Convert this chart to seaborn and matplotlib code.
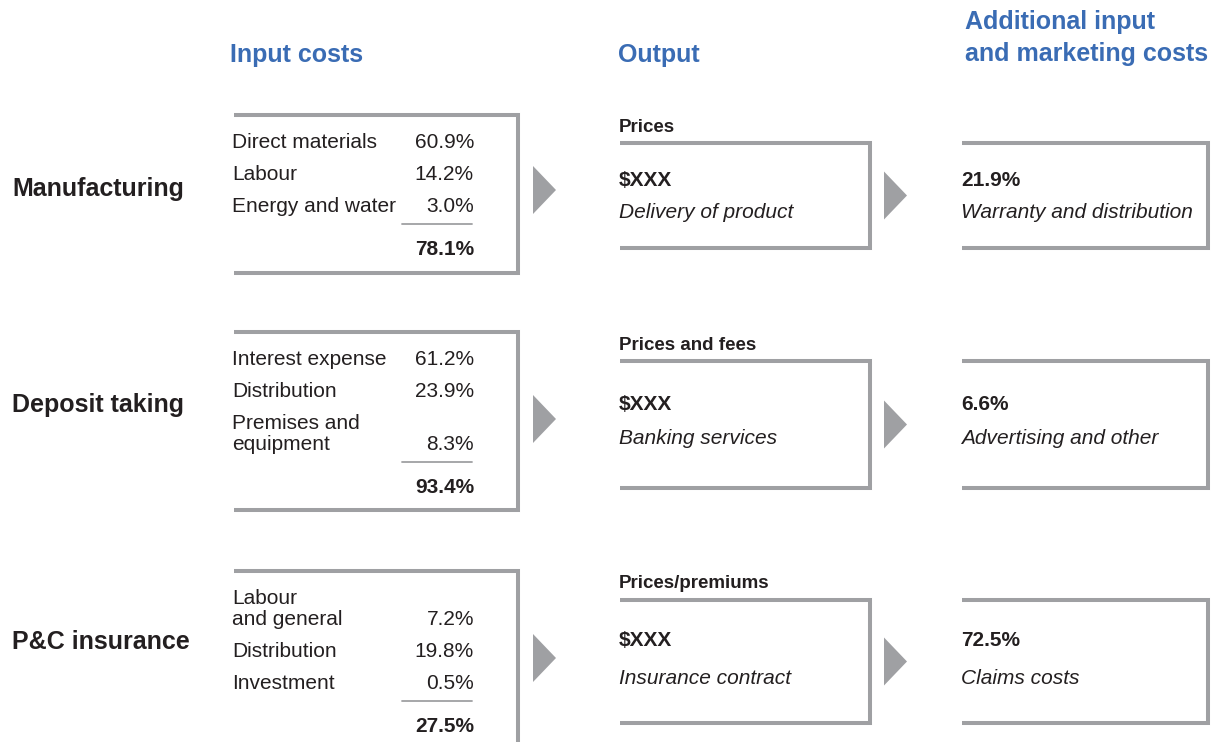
import numpy as np
import pandas as pd
import matplotlib.pyplot as plt
from matplotlib.patches import Polygon
import seaborn as sns

sns.set_theme(style="white")
plt.rcParams['font.family'] = ['Liberation Sans', 'DejaVu Sans']

# data
sectors = ['Manufacturing', 'Deposit taking', 'P&C insurance']
headers = ['Input costs', 'Output', 'Additional input\nand marketing costs']
input_labels = [
    ['Direct materials', 'Labour', 'Energy and water'],
    ['Interest expense', 'Distribution', 'Premises and\nequipment'],
    ['Labour\nand general', 'Distribution', 'Investment'],
]
input_values = [
    [60.9, 14.2, 3.0],
    [61.2, 23.9, 8.3],
    [7.2, 19.8, 0.5],
]
input_totals = [78.1, 93.4, 27.5]
output_titles = ['Prices', 'Prices and fees', 'Prices/premiums']
output_amounts = ['$XXX', '$XXX', '$XXX']
output_desc = ['Delivery of product', 'Banking services', 'Insurance contract']
extra_values = [21.9, 6.6, 72.5]
extra_desc = ['Warranty and distribution', 'Advertising and other', 'Claims costs']

# layout (pixels)
label_y = [189, 405, 642]
in_top = [115, 332, 571]
in_bot = [273, 510, 760]
out_top = [143, 361, 600]
out_bot = [248, 488, 723]
amount_y = [180, 404, 641]
desc_y = [212, 439, 679]
arrow1_y = [190, 419, 658]

gray = '#9FA0A3'
blue = '#3A6CB4'
dark = '#231F20'
lw = 2.9
fs = 15

fig = plt.figure(figsize=(12.12, 7.42), dpi=100)
ax = fig.add_axes([0, 0, 1, 1])
ax.set_xlim(0, 1212)
ax.set_ylim(742, 0)
ax.axis('off')
sns.despine(ax=ax, left=True, bottom=True)


def bracket(left, right, top, bottom):
    ax.plot([left, right, right, left], [top, top, bottom, bottom],
            color=gray, lw=lw, solid_joinstyle='miter', solid_capstyle='butt')


def arrow(x, y):
    ax.add_patch(Polygon([[x, y - 24], [x, y + 24], [x + 23, y]],
                         closed=True, color=gray, lw=0))


# headers
ax.text(230, 55, headers[0], color=blue, fontsize=18, fontweight='bold', va='center')
ax.text(618, 55, headers[1], color=blue, fontsize=18, fontweight='bold', va='center')
ax.text(965, 38, headers[2], color=blue, fontsize=18, fontweight='bold', va='center',
        linespacing=1.4)

for i, sector in enumerate(sectors):
    # row label
    ax.text(12, label_y[i], sector, color=dark, fontsize=18, fontweight='bold', va='center')

    # input box
    bracket(234, 518, in_top[i], in_bot[i])
    y = in_top[i] + 33
    for lab, val in zip(input_labels[i], input_values[i]):
        lines = lab.split('\n')
        for k, part in enumerate(lines):
            ax.text(232, y + 21 * k, part, color=dark, fontsize=fs, va='baseline', ha='left')
        y += 21 * (len(lines) - 1)
        ax.text(474, y, f'{val:.1f}%', color=dark, fontsize=fs, va='baseline', ha='right')
        y += 32
    y -= 32
    line_y = y + 12
    ax.plot([402, 472], [line_y, line_y], color=gray, lw=1.3)
    ax.text(474, y + 43, f'{input_totals[i]:.1f}%', color=dark, fontsize=fs,
            fontweight='bold', va='baseline', ha='right')

    arrow(533, arrow1_y[i])

    # output box
    ax.text(619, out_top[i] - 16, output_titles[i], color=dark, fontsize=13.5,
            fontweight='bold', va='center')
    bracket(620, 870, out_top[i], out_bot[i])
    ax.text(619, amount_y[i], output_amounts[i], color=dark, fontsize=fs,
            fontweight='bold', va='center')
    ax.text(619, desc_y[i], output_desc[i], color=dark, fontsize=fs,
            style='italic', va='center')

    arrow(884, (out_top[i] + out_bot[i]) / 2)

    # additional costs box
    bracket(962, 1208, out_top[i], out_bot[i])
    ax.text(961, amount_y[i], f'{extra_values[i]:.1f}%', color=dark, fontsize=fs,
            fontweight='bold', va='center')
    ax.text(961, desc_y[i], extra_desc[i], color=dark, fontsize=fs,
            style='italic', va='center')

fig.savefig('out.png', dpi=100)
